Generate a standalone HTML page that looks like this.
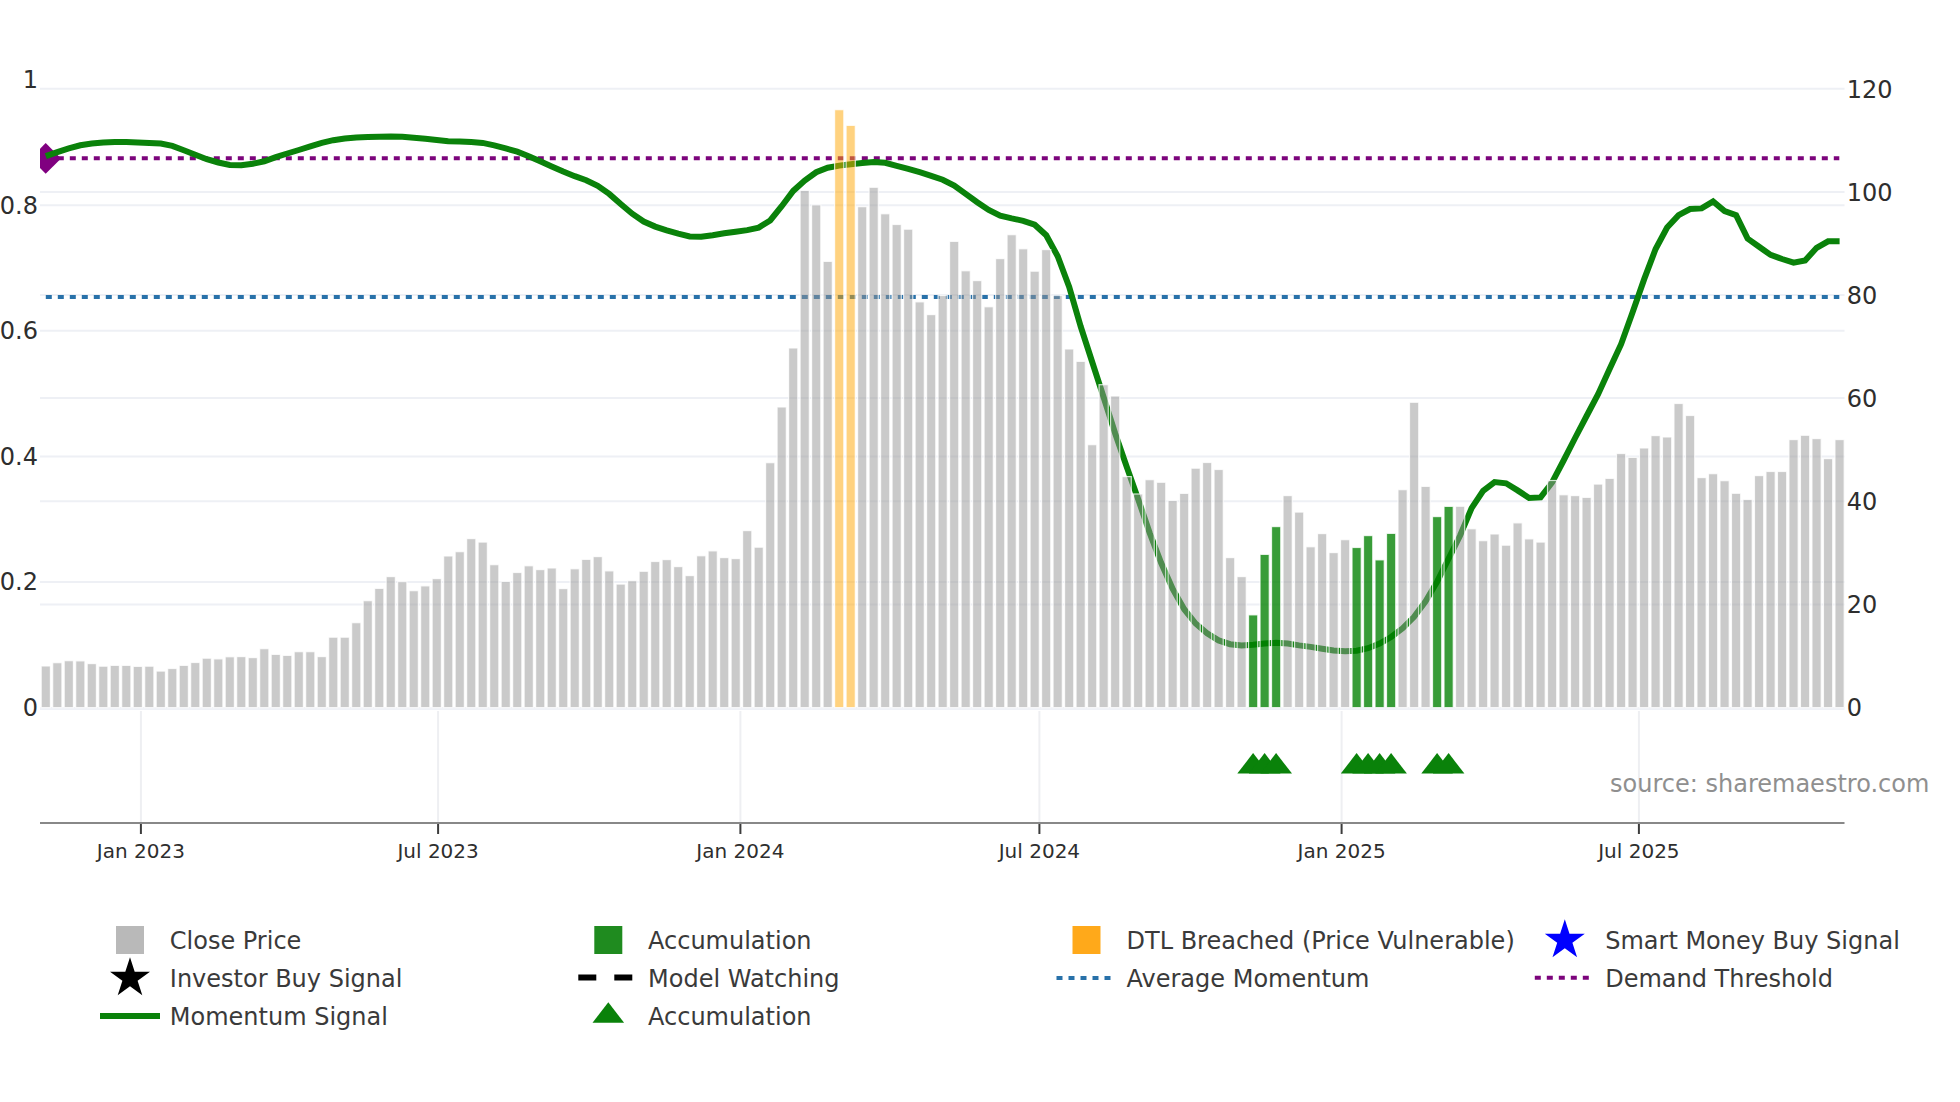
<!DOCTYPE html>
<html><head><meta charset="utf-8"><title>Momentum chart</title>
<style>html,body{margin:0;padding:0;background:#fff}body{width:1960px;height:1102px;overflow:hidden}</style>
</head><body>
<svg width="1960" height="1102" viewBox="0 0 1960 1102" style="display:block">
<rect width="1960" height="1102" fill="#fff"/>
<line x1="40" x2="1844.5" y1="582.0" y2="582.0" stroke="#eef0f5" stroke-width="2"/>
<line x1="40" x2="1844.5" y1="456.4" y2="456.4" stroke="#eef0f5" stroke-width="2"/>
<line x1="40" x2="1844.5" y1="330.8" y2="330.8" stroke="#eef0f5" stroke-width="2"/>
<line x1="40" x2="1844.5" y1="205.3" y2="205.3" stroke="#eef0f5" stroke-width="2"/>
<line x1="40" x2="1844.5" y1="604.4" y2="604.4" stroke="#eef0f5" stroke-width="2"/>
<line x1="40" x2="1844.5" y1="501.3" y2="501.3" stroke="#eef0f5" stroke-width="2"/>
<line x1="40" x2="1844.5" y1="398.1" y2="398.1" stroke="#eef0f5" stroke-width="2"/>
<line x1="40" x2="1844.5" y1="295.0" y2="295.0" stroke="#eef0f5" stroke-width="2"/>
<line x1="40" x2="1844.5" y1="191.9" y2="191.9" stroke="#eef0f5" stroke-width="2"/>
<line x1="40" x2="1844.5" y1="88.7" y2="88.7" stroke="#eef0f5" stroke-width="2"/>
<line x1="40" x2="1844.5" y1="708.6" y2="708.6" stroke="#f0f2f7" stroke-width="3"/>
<line x1="140.9" x2="140.9" y1="711" y2="822" stroke="#eeeff2" stroke-width="2"/>
<line x1="438.1" x2="438.1" y1="711" y2="822" stroke="#eeeff2" stroke-width="2"/>
<line x1="740.4" x2="740.4" y1="711" y2="822" stroke="#eeeff2" stroke-width="2"/>
<line x1="1039.4" x2="1039.4" y1="711" y2="822" stroke="#eeeff2" stroke-width="2"/>
<line x1="1341.6" x2="1341.6" y1="711" y2="822" stroke="#eeeff2" stroke-width="2"/>
<line x1="1638.9" x2="1638.9" y1="711" y2="822" stroke="#eeeff2" stroke-width="2"/>
<defs><clipPath id="pc"><rect x="40" y="70" width="1804.5" height="640"/></clipPath></defs>
<g clip-path="url(#pc)">
<polygon points="30.4,158.4 45.7,143.1 61,158.4 45.7,173.7" fill="#800080"/>
<line x1="45.8" x2="1839.3" y1="158.3" y2="158.3" stroke="#7c047c" stroke-width="4" stroke-dasharray="6 6"/>
<line x1="45.8" x2="1839.3" y1="296.9" y2="296.9" stroke="#2871a9" stroke-width="4" stroke-dasharray="6 6"/>
<polyline points="45.8,156.2 57.3,152.1 68.8,148.4 80.3,145.3 91.8,143.5 103.3,142.5 114.8,141.9 126.3,142.1 137.8,142.5 149.3,142.9 160.8,143.5 172.3,145.9 183.8,150.2 195.3,154.7 206.8,159.2 218.3,162.5 229.8,164.9 241.3,165.3 252.8,163.7 264.3,161.3 275.8,157.2 287.3,153.5 298.8,150.0 310.3,146.4 321.8,142.9 333.3,140.2 344.8,138.6 356.3,137.4 367.8,137.0 379.3,136.8 390.8,136.5 402.3,136.8 413.8,137.7 425.3,138.8 436.7,140.0 448.2,141.2 459.7,141.4 471.2,142.1 482.7,142.9 494.2,145.3 505.7,148.4 517.2,151.7 528.7,156.2 540.2,161.3 551.7,166.4 563.2,171.5 574.7,176.2 586.2,180.2 597.7,185.8 609.2,193.9 620.7,204.1 632.2,213.7 643.7,221.5 655.2,226.6 666.7,230.3 678.2,233.7 689.7,236.4 701.2,236.8 712.7,235.2 724.2,233.3 735.7,231.7 747.2,230.1 758.7,227.6 770.2,220.5 781.7,206.2 793.2,190.9 804.7,180.5 816.2,172.2 827.7,167.7 839.2,165.6 850.7,164.2 862.2,163.1 873.7,162.1 885.2,162.8 896.7,165.8 908.2,168.8 919.7,172.2 931.2,175.8 942.7,179.7 954.2,185.5 965.7,193.9 977.2,202.2 988.7,209.9 1000.2,215.6 1011.7,218.4 1023.2,220.8 1034.7,224.7 1046.2,235.2 1057.7,256.3 1069.2,287.0 1080.7,326.5 1092.2,362.0 1103.7,397.5 1115.2,433.5 1126.7,466.7 1138.2,499.2 1149.7,533.0 1161.2,563.0 1172.7,589.0 1184.2,609.2 1195.6,623.5 1207.1,633.2 1218.6,640.4 1230.1,644.2 1241.6,645.5 1253.1,644.8 1264.6,643.6 1276.1,642.7 1287.6,643.6 1299.1,645.4 1310.6,646.9 1322.1,648.7 1333.6,650.4 1345.1,651.3 1356.6,650.8 1368.1,648.2 1379.6,643.5 1391.1,637.0 1402.6,628.3 1414.1,616.8 1425.6,601.3 1437.1,581.7 1448.6,558.6 1460.1,535.5 1471.6,508.2 1483.1,490.9 1494.6,482.1 1506.1,483.3 1517.6,490.4 1529.1,498.0 1540.6,497.4 1552.1,482.5 1563.6,460.5 1575.1,438.0 1586.6,416.0 1598.1,394.2 1609.6,369.0 1621.1,344.2 1632.6,312.2 1644.1,279.4 1655.6,249.0 1667.1,227.5 1678.6,215.1 1690.1,209.0 1701.6,208.4 1713.1,201.4 1724.6,211.0 1736.1,215.1 1747.6,238.6 1759.1,246.8 1770.6,254.9 1782.1,259.0 1793.6,262.7 1805.1,260.5 1816.6,247.8 1828.1,241.3 1839.6,241.3" fill="none" stroke="#0a820a" stroke-width="6" stroke-linejoin="miter" stroke-linecap="butt"/>
<rect x="41.20" y="666.0" width="9.2" height="41.6" fill="#969696" fill-opacity="0.5" stroke="#fff" stroke-opacity="0.78" stroke-width="1.2"/>
<rect x="52.70" y="662.7" width="9.2" height="44.9" fill="#969696" fill-opacity="0.5" stroke="#fff" stroke-opacity="0.78" stroke-width="1.2"/>
<rect x="64.20" y="660.7" width="9.2" height="46.9" fill="#969696" fill-opacity="0.5" stroke="#fff" stroke-opacity="0.78" stroke-width="1.2"/>
<rect x="75.70" y="660.9" width="9.2" height="46.7" fill="#969696" fill-opacity="0.5" stroke="#fff" stroke-opacity="0.78" stroke-width="1.2"/>
<rect x="87.19" y="663.6" width="9.2" height="44.0" fill="#969696" fill-opacity="0.5" stroke="#fff" stroke-opacity="0.78" stroke-width="1.2"/>
<rect x="98.69" y="666.2" width="9.2" height="41.4" fill="#969696" fill-opacity="0.5" stroke="#fff" stroke-opacity="0.78" stroke-width="1.2"/>
<rect x="110.19" y="665.4" width="9.2" height="42.2" fill="#969696" fill-opacity="0.5" stroke="#fff" stroke-opacity="0.78" stroke-width="1.2"/>
<rect x="121.69" y="665.4" width="9.2" height="42.2" fill="#969696" fill-opacity="0.5" stroke="#fff" stroke-opacity="0.78" stroke-width="1.2"/>
<rect x="133.19" y="666.4" width="9.2" height="41.2" fill="#969696" fill-opacity="0.5" stroke="#fff" stroke-opacity="0.78" stroke-width="1.2"/>
<rect x="144.69" y="666.2" width="9.2" height="41.4" fill="#969696" fill-opacity="0.5" stroke="#fff" stroke-opacity="0.78" stroke-width="1.2"/>
<rect x="156.19" y="671.1" width="9.2" height="36.5" fill="#969696" fill-opacity="0.5" stroke="#fff" stroke-opacity="0.78" stroke-width="1.2"/>
<rect x="167.68" y="668.5" width="9.2" height="39.1" fill="#969696" fill-opacity="0.5" stroke="#fff" stroke-opacity="0.78" stroke-width="1.2"/>
<rect x="179.18" y="665.4" width="9.2" height="42.2" fill="#969696" fill-opacity="0.5" stroke="#fff" stroke-opacity="0.78" stroke-width="1.2"/>
<rect x="190.68" y="662.5" width="9.2" height="45.1" fill="#969696" fill-opacity="0.5" stroke="#fff" stroke-opacity="0.78" stroke-width="1.2"/>
<rect x="202.18" y="658.2" width="9.2" height="49.4" fill="#969696" fill-opacity="0.5" stroke="#fff" stroke-opacity="0.78" stroke-width="1.2"/>
<rect x="213.68" y="658.9" width="9.2" height="48.7" fill="#969696" fill-opacity="0.5" stroke="#fff" stroke-opacity="0.78" stroke-width="1.2"/>
<rect x="225.18" y="656.8" width="9.2" height="50.8" fill="#969696" fill-opacity="0.5" stroke="#fff" stroke-opacity="0.78" stroke-width="1.2"/>
<rect x="236.67" y="656.6" width="9.2" height="51.0" fill="#969696" fill-opacity="0.5" stroke="#fff" stroke-opacity="0.78" stroke-width="1.2"/>
<rect x="248.17" y="657.6" width="9.2" height="50.0" fill="#969696" fill-opacity="0.5" stroke="#fff" stroke-opacity="0.78" stroke-width="1.2"/>
<rect x="259.67" y="648.7" width="9.2" height="58.9" fill="#969696" fill-opacity="0.5" stroke="#fff" stroke-opacity="0.78" stroke-width="1.2"/>
<rect x="271.17" y="654.4" width="9.2" height="53.2" fill="#969696" fill-opacity="0.5" stroke="#fff" stroke-opacity="0.78" stroke-width="1.2"/>
<rect x="282.67" y="655.4" width="9.2" height="52.2" fill="#969696" fill-opacity="0.5" stroke="#fff" stroke-opacity="0.78" stroke-width="1.2"/>
<rect x="294.17" y="651.7" width="9.2" height="55.9" fill="#969696" fill-opacity="0.5" stroke="#fff" stroke-opacity="0.78" stroke-width="1.2"/>
<rect x="305.67" y="651.7" width="9.2" height="55.9" fill="#969696" fill-opacity="0.5" stroke="#fff" stroke-opacity="0.78" stroke-width="1.2"/>
<rect x="317.16" y="656.6" width="9.2" height="51.0" fill="#969696" fill-opacity="0.5" stroke="#fff" stroke-opacity="0.78" stroke-width="1.2"/>
<rect x="328.66" y="637.2" width="9.2" height="70.4" fill="#969696" fill-opacity="0.5" stroke="#fff" stroke-opacity="0.78" stroke-width="1.2"/>
<rect x="340.16" y="637.2" width="9.2" height="70.4" fill="#969696" fill-opacity="0.5" stroke="#fff" stroke-opacity="0.78" stroke-width="1.2"/>
<rect x="351.66" y="622.7" width="9.2" height="84.9" fill="#969696" fill-opacity="0.5" stroke="#fff" stroke-opacity="0.78" stroke-width="1.2"/>
<rect x="363.16" y="600.7" width="9.2" height="106.9" fill="#969696" fill-opacity="0.5" stroke="#fff" stroke-opacity="0.78" stroke-width="1.2"/>
<rect x="374.66" y="588.4" width="9.2" height="119.2" fill="#969696" fill-opacity="0.5" stroke="#fff" stroke-opacity="0.78" stroke-width="1.2"/>
<rect x="386.15" y="576.6" width="9.2" height="131.0" fill="#969696" fill-opacity="0.5" stroke="#fff" stroke-opacity="0.78" stroke-width="1.2"/>
<rect x="397.65" y="581.7" width="9.2" height="125.9" fill="#969696" fill-opacity="0.5" stroke="#fff" stroke-opacity="0.78" stroke-width="1.2"/>
<rect x="409.15" y="590.7" width="9.2" height="116.9" fill="#969696" fill-opacity="0.5" stroke="#fff" stroke-opacity="0.78" stroke-width="1.2"/>
<rect x="420.65" y="585.9" width="9.2" height="121.7" fill="#969696" fill-opacity="0.5" stroke="#fff" stroke-opacity="0.78" stroke-width="1.2"/>
<rect x="432.15" y="578.6" width="9.2" height="129.0" fill="#969696" fill-opacity="0.5" stroke="#fff" stroke-opacity="0.78" stroke-width="1.2"/>
<rect x="443.65" y="556.0" width="9.2" height="151.6" fill="#969696" fill-opacity="0.5" stroke="#fff" stroke-opacity="0.78" stroke-width="1.2"/>
<rect x="455.15" y="551.7" width="9.2" height="155.9" fill="#969696" fill-opacity="0.5" stroke="#fff" stroke-opacity="0.78" stroke-width="1.2"/>
<rect x="466.64" y="538.6" width="9.2" height="169.0" fill="#969696" fill-opacity="0.5" stroke="#fff" stroke-opacity="0.78" stroke-width="1.2"/>
<rect x="478.14" y="542.1" width="9.2" height="165.5" fill="#969696" fill-opacity="0.5" stroke="#fff" stroke-opacity="0.78" stroke-width="1.2"/>
<rect x="489.64" y="564.7" width="9.2" height="142.9" fill="#969696" fill-opacity="0.5" stroke="#fff" stroke-opacity="0.78" stroke-width="1.2"/>
<rect x="501.14" y="581.5" width="9.2" height="126.1" fill="#969696" fill-opacity="0.5" stroke="#fff" stroke-opacity="0.78" stroke-width="1.2"/>
<rect x="512.64" y="572.5" width="9.2" height="135.1" fill="#969696" fill-opacity="0.5" stroke="#fff" stroke-opacity="0.78" stroke-width="1.2"/>
<rect x="524.14" y="565.8" width="9.2" height="141.8" fill="#969696" fill-opacity="0.5" stroke="#fff" stroke-opacity="0.78" stroke-width="1.2"/>
<rect x="535.64" y="569.6" width="9.2" height="138.0" fill="#969696" fill-opacity="0.5" stroke="#fff" stroke-opacity="0.78" stroke-width="1.2"/>
<rect x="547.13" y="568.0" width="9.2" height="139.6" fill="#969696" fill-opacity="0.5" stroke="#fff" stroke-opacity="0.78" stroke-width="1.2"/>
<rect x="558.63" y="588.6" width="9.2" height="119.0" fill="#969696" fill-opacity="0.5" stroke="#fff" stroke-opacity="0.78" stroke-width="1.2"/>
<rect x="570.13" y="568.8" width="9.2" height="138.8" fill="#969696" fill-opacity="0.5" stroke="#fff" stroke-opacity="0.78" stroke-width="1.2"/>
<rect x="581.63" y="559.4" width="9.2" height="148.2" fill="#969696" fill-opacity="0.5" stroke="#fff" stroke-opacity="0.78" stroke-width="1.2"/>
<rect x="593.13" y="556.6" width="9.2" height="151.0" fill="#969696" fill-opacity="0.5" stroke="#fff" stroke-opacity="0.78" stroke-width="1.2"/>
<rect x="604.63" y="570.9" width="9.2" height="136.7" fill="#969696" fill-opacity="0.5" stroke="#fff" stroke-opacity="0.78" stroke-width="1.2"/>
<rect x="616.12" y="584.1" width="9.2" height="123.5" fill="#969696" fill-opacity="0.5" stroke="#fff" stroke-opacity="0.78" stroke-width="1.2"/>
<rect x="627.62" y="580.7" width="9.2" height="126.9" fill="#969696" fill-opacity="0.5" stroke="#fff" stroke-opacity="0.78" stroke-width="1.2"/>
<rect x="639.12" y="571.3" width="9.2" height="136.3" fill="#969696" fill-opacity="0.5" stroke="#fff" stroke-opacity="0.78" stroke-width="1.2"/>
<rect x="650.62" y="561.5" width="9.2" height="146.1" fill="#969696" fill-opacity="0.5" stroke="#fff" stroke-opacity="0.78" stroke-width="1.2"/>
<rect x="662.12" y="559.6" width="9.2" height="148.0" fill="#969696" fill-opacity="0.5" stroke="#fff" stroke-opacity="0.78" stroke-width="1.2"/>
<rect x="673.62" y="566.6" width="9.2" height="141.0" fill="#969696" fill-opacity="0.5" stroke="#fff" stroke-opacity="0.78" stroke-width="1.2"/>
<rect x="685.12" y="575.6" width="9.2" height="132.0" fill="#969696" fill-opacity="0.5" stroke="#fff" stroke-opacity="0.78" stroke-width="1.2"/>
<rect x="696.61" y="555.8" width="9.2" height="151.8" fill="#969696" fill-opacity="0.5" stroke="#fff" stroke-opacity="0.78" stroke-width="1.2"/>
<rect x="708.11" y="550.9" width="9.2" height="156.7" fill="#969696" fill-opacity="0.5" stroke="#fff" stroke-opacity="0.78" stroke-width="1.2"/>
<rect x="719.61" y="557.6" width="9.2" height="150.0" fill="#969696" fill-opacity="0.5" stroke="#fff" stroke-opacity="0.78" stroke-width="1.2"/>
<rect x="731.11" y="558.6" width="9.2" height="149.0" fill="#969696" fill-opacity="0.5" stroke="#fff" stroke-opacity="0.78" stroke-width="1.2"/>
<rect x="742.61" y="530.6" width="9.2" height="177.0" fill="#969696" fill-opacity="0.5" stroke="#fff" stroke-opacity="0.78" stroke-width="1.2"/>
<rect x="754.11" y="547.2" width="9.2" height="160.4" fill="#969696" fill-opacity="0.5" stroke="#fff" stroke-opacity="0.78" stroke-width="1.2"/>
<rect x="765.61" y="462.7" width="9.2" height="244.9" fill="#969696" fill-opacity="0.5" stroke="#fff" stroke-opacity="0.78" stroke-width="1.2"/>
<rect x="777.10" y="407.0" width="9.2" height="300.6" fill="#969696" fill-opacity="0.5" stroke="#fff" stroke-opacity="0.78" stroke-width="1.2"/>
<rect x="788.60" y="348.0" width="9.2" height="359.6" fill="#969696" fill-opacity="0.5" stroke="#fff" stroke-opacity="0.78" stroke-width="1.2"/>
<rect x="800.10" y="190.4" width="9.2" height="517.2" fill="#969696" fill-opacity="0.5" stroke="#fff" stroke-opacity="0.78" stroke-width="1.2"/>
<rect x="811.60" y="204.9" width="9.2" height="502.7" fill="#969696" fill-opacity="0.5" stroke="#fff" stroke-opacity="0.78" stroke-width="1.2"/>
<rect x="823.10" y="261.4" width="9.2" height="446.2" fill="#969696" fill-opacity="0.5" stroke="#fff" stroke-opacity="0.78" stroke-width="1.2"/>
<rect x="834.60" y="109.7" width="9.2" height="597.9" fill="#ffa500" fill-opacity="0.5" stroke="#fff" stroke-opacity="0.78" stroke-width="1.2"/>
<rect x="846.09" y="125.4" width="9.2" height="582.2" fill="#ffa500" fill-opacity="0.5" stroke="#fff" stroke-opacity="0.78" stroke-width="1.2"/>
<rect x="857.59" y="206.7" width="9.2" height="500.9" fill="#969696" fill-opacity="0.5" stroke="#fff" stroke-opacity="0.78" stroke-width="1.2"/>
<rect x="869.09" y="187.3" width="9.2" height="520.3" fill="#969696" fill-opacity="0.5" stroke="#fff" stroke-opacity="0.78" stroke-width="1.2"/>
<rect x="880.59" y="213.8" width="9.2" height="493.8" fill="#969696" fill-opacity="0.5" stroke="#fff" stroke-opacity="0.78" stroke-width="1.2"/>
<rect x="892.09" y="224.5" width="9.2" height="483.1" fill="#969696" fill-opacity="0.5" stroke="#fff" stroke-opacity="0.78" stroke-width="1.2"/>
<rect x="903.59" y="229.2" width="9.2" height="478.4" fill="#969696" fill-opacity="0.5" stroke="#fff" stroke-opacity="0.78" stroke-width="1.2"/>
<rect x="915.09" y="301.9" width="9.2" height="405.7" fill="#969696" fill-opacity="0.5" stroke="#fff" stroke-opacity="0.78" stroke-width="1.2"/>
<rect x="926.58" y="314.6" width="9.2" height="393.0" fill="#969696" fill-opacity="0.5" stroke="#fff" stroke-opacity="0.78" stroke-width="1.2"/>
<rect x="938.08" y="295.5" width="9.2" height="412.1" fill="#969696" fill-opacity="0.5" stroke="#fff" stroke-opacity="0.78" stroke-width="1.2"/>
<rect x="949.58" y="241.4" width="9.2" height="466.2" fill="#969696" fill-opacity="0.5" stroke="#fff" stroke-opacity="0.78" stroke-width="1.2"/>
<rect x="961.08" y="270.8" width="9.2" height="436.8" fill="#969696" fill-opacity="0.5" stroke="#fff" stroke-opacity="0.78" stroke-width="1.2"/>
<rect x="972.58" y="280.6" width="9.2" height="427.0" fill="#969696" fill-opacity="0.5" stroke="#fff" stroke-opacity="0.78" stroke-width="1.2"/>
<rect x="984.08" y="306.8" width="9.2" height="400.8" fill="#969696" fill-opacity="0.5" stroke="#fff" stroke-opacity="0.78" stroke-width="1.2"/>
<rect x="995.58" y="258.6" width="9.2" height="449.0" fill="#969696" fill-opacity="0.5" stroke="#fff" stroke-opacity="0.78" stroke-width="1.2"/>
<rect x="1007.07" y="234.7" width="9.2" height="472.9" fill="#969696" fill-opacity="0.5" stroke="#fff" stroke-opacity="0.78" stroke-width="1.2"/>
<rect x="1018.57" y="248.8" width="9.2" height="458.8" fill="#969696" fill-opacity="0.5" stroke="#fff" stroke-opacity="0.78" stroke-width="1.2"/>
<rect x="1030.07" y="271.2" width="9.2" height="436.4" fill="#969696" fill-opacity="0.5" stroke="#fff" stroke-opacity="0.78" stroke-width="1.2"/>
<rect x="1041.57" y="249.6" width="9.2" height="458.0" fill="#969696" fill-opacity="0.5" stroke="#fff" stroke-opacity="0.78" stroke-width="1.2"/>
<rect x="1053.07" y="295.5" width="9.2" height="412.1" fill="#969696" fill-opacity="0.5" stroke="#fff" stroke-opacity="0.78" stroke-width="1.2"/>
<rect x="1064.57" y="349.0" width="9.2" height="358.6" fill="#969696" fill-opacity="0.5" stroke="#fff" stroke-opacity="0.78" stroke-width="1.2"/>
<rect x="1076.07" y="361.4" width="9.2" height="346.2" fill="#969696" fill-opacity="0.5" stroke="#fff" stroke-opacity="0.78" stroke-width="1.2"/>
<rect x="1087.56" y="444.7" width="9.2" height="262.9" fill="#969696" fill-opacity="0.5" stroke="#fff" stroke-opacity="0.78" stroke-width="1.2"/>
<rect x="1099.06" y="384.7" width="9.2" height="322.9" fill="#969696" fill-opacity="0.5" stroke="#fff" stroke-opacity="0.78" stroke-width="1.2"/>
<rect x="1110.56" y="396.0" width="9.2" height="311.6" fill="#969696" fill-opacity="0.5" stroke="#fff" stroke-opacity="0.78" stroke-width="1.2"/>
<rect x="1122.06" y="476.6" width="9.2" height="231.0" fill="#969696" fill-opacity="0.5" stroke="#fff" stroke-opacity="0.78" stroke-width="1.2"/>
<rect x="1133.56" y="494.0" width="9.2" height="213.6" fill="#969696" fill-opacity="0.5" stroke="#fff" stroke-opacity="0.78" stroke-width="1.2"/>
<rect x="1145.06" y="479.7" width="9.2" height="227.9" fill="#969696" fill-opacity="0.5" stroke="#fff" stroke-opacity="0.78" stroke-width="1.2"/>
<rect x="1156.55" y="482.3" width="9.2" height="225.3" fill="#969696" fill-opacity="0.5" stroke="#fff" stroke-opacity="0.78" stroke-width="1.2"/>
<rect x="1168.05" y="500.5" width="9.2" height="207.1" fill="#969696" fill-opacity="0.5" stroke="#fff" stroke-opacity="0.78" stroke-width="1.2"/>
<rect x="1179.55" y="493.4" width="9.2" height="214.2" fill="#969696" fill-opacity="0.5" stroke="#fff" stroke-opacity="0.78" stroke-width="1.2"/>
<rect x="1191.05" y="468.2" width="9.2" height="239.4" fill="#969696" fill-opacity="0.5" stroke="#fff" stroke-opacity="0.78" stroke-width="1.2"/>
<rect x="1202.55" y="462.5" width="9.2" height="245.1" fill="#969696" fill-opacity="0.5" stroke="#fff" stroke-opacity="0.78" stroke-width="1.2"/>
<rect x="1214.05" y="469.5" width="9.2" height="238.1" fill="#969696" fill-opacity="0.5" stroke="#fff" stroke-opacity="0.78" stroke-width="1.2"/>
<rect x="1225.55" y="557.6" width="9.2" height="150.0" fill="#969696" fill-opacity="0.5" stroke="#fff" stroke-opacity="0.78" stroke-width="1.2"/>
<rect x="1237.04" y="576.6" width="9.2" height="131.0" fill="#969696" fill-opacity="0.5" stroke="#fff" stroke-opacity="0.78" stroke-width="1.2"/>
<rect x="1248.54" y="614.9" width="9.2" height="92.7" fill="#008000" fill-opacity="0.78" stroke="#fff" stroke-opacity="0.78" stroke-width="1.2"/>
<rect x="1260.04" y="554.4" width="9.2" height="153.2" fill="#008000" fill-opacity="0.78" stroke="#fff" stroke-opacity="0.78" stroke-width="1.2"/>
<rect x="1271.54" y="526.6" width="9.2" height="181.0" fill="#008000" fill-opacity="0.78" stroke="#fff" stroke-opacity="0.78" stroke-width="1.2"/>
<rect x="1283.04" y="495.6" width="9.2" height="212.0" fill="#969696" fill-opacity="0.5" stroke="#fff" stroke-opacity="0.78" stroke-width="1.2"/>
<rect x="1294.54" y="512.1" width="9.2" height="195.5" fill="#969696" fill-opacity="0.5" stroke="#fff" stroke-opacity="0.78" stroke-width="1.2"/>
<rect x="1306.04" y="546.8" width="9.2" height="160.8" fill="#969696" fill-opacity="0.5" stroke="#fff" stroke-opacity="0.78" stroke-width="1.2"/>
<rect x="1317.53" y="533.6" width="9.2" height="174.0" fill="#969696" fill-opacity="0.5" stroke="#fff" stroke-opacity="0.78" stroke-width="1.2"/>
<rect x="1329.03" y="552.6" width="9.2" height="155.0" fill="#969696" fill-opacity="0.5" stroke="#fff" stroke-opacity="0.78" stroke-width="1.2"/>
<rect x="1340.53" y="539.7" width="9.2" height="167.9" fill="#969696" fill-opacity="0.5" stroke="#fff" stroke-opacity="0.78" stroke-width="1.2"/>
<rect x="1352.03" y="547.5" width="9.2" height="160.1" fill="#008000" fill-opacity="0.78" stroke="#fff" stroke-opacity="0.78" stroke-width="1.2"/>
<rect x="1363.53" y="535.6" width="9.2" height="172.0" fill="#008000" fill-opacity="0.78" stroke="#fff" stroke-opacity="0.78" stroke-width="1.2"/>
<rect x="1375.03" y="559.9" width="9.2" height="147.7" fill="#008000" fill-opacity="0.78" stroke="#fff" stroke-opacity="0.78" stroke-width="1.2"/>
<rect x="1386.52" y="533.4" width="9.2" height="174.2" fill="#008000" fill-opacity="0.78" stroke="#fff" stroke-opacity="0.78" stroke-width="1.2"/>
<rect x="1398.02" y="489.7" width="9.2" height="217.9" fill="#969696" fill-opacity="0.5" stroke="#fff" stroke-opacity="0.78" stroke-width="1.2"/>
<rect x="1409.52" y="402.3" width="9.2" height="305.3" fill="#969696" fill-opacity="0.5" stroke="#fff" stroke-opacity="0.78" stroke-width="1.2"/>
<rect x="1421.02" y="486.4" width="9.2" height="221.2" fill="#969696" fill-opacity="0.5" stroke="#fff" stroke-opacity="0.78" stroke-width="1.2"/>
<rect x="1432.52" y="516.6" width="9.2" height="191.0" fill="#008000" fill-opacity="0.78" stroke="#fff" stroke-opacity="0.78" stroke-width="1.2"/>
<rect x="1444.02" y="506.4" width="9.2" height="201.2" fill="#008000" fill-opacity="0.78" stroke="#fff" stroke-opacity="0.78" stroke-width="1.2"/>
<rect x="1455.52" y="506.3" width="9.2" height="201.3" fill="#969696" fill-opacity="0.5" stroke="#fff" stroke-opacity="0.78" stroke-width="1.2"/>
<rect x="1467.01" y="528.8" width="9.2" height="178.8" fill="#969696" fill-opacity="0.5" stroke="#fff" stroke-opacity="0.78" stroke-width="1.2"/>
<rect x="1478.51" y="540.7" width="9.2" height="166.9" fill="#969696" fill-opacity="0.5" stroke="#fff" stroke-opacity="0.78" stroke-width="1.2"/>
<rect x="1490.01" y="534.0" width="9.2" height="173.6" fill="#969696" fill-opacity="0.5" stroke="#fff" stroke-opacity="0.78" stroke-width="1.2"/>
<rect x="1501.51" y="545.2" width="9.2" height="162.4" fill="#969696" fill-opacity="0.5" stroke="#fff" stroke-opacity="0.78" stroke-width="1.2"/>
<rect x="1513.01" y="522.9" width="9.2" height="184.7" fill="#969696" fill-opacity="0.5" stroke="#fff" stroke-opacity="0.78" stroke-width="1.2"/>
<rect x="1524.51" y="538.9" width="9.2" height="168.7" fill="#969696" fill-opacity="0.5" stroke="#fff" stroke-opacity="0.78" stroke-width="1.2"/>
<rect x="1536.01" y="542.1" width="9.2" height="165.5" fill="#969696" fill-opacity="0.5" stroke="#fff" stroke-opacity="0.78" stroke-width="1.2"/>
<rect x="1547.50" y="480.5" width="9.2" height="227.1" fill="#969696" fill-opacity="0.5" stroke="#fff" stroke-opacity="0.78" stroke-width="1.2"/>
<rect x="1559.00" y="494.8" width="9.2" height="212.8" fill="#969696" fill-opacity="0.5" stroke="#fff" stroke-opacity="0.78" stroke-width="1.2"/>
<rect x="1570.50" y="495.6" width="9.2" height="212.0" fill="#969696" fill-opacity="0.5" stroke="#fff" stroke-opacity="0.78" stroke-width="1.2"/>
<rect x="1582.00" y="497.4" width="9.2" height="210.2" fill="#969696" fill-opacity="0.5" stroke="#fff" stroke-opacity="0.78" stroke-width="1.2"/>
<rect x="1593.50" y="484.1" width="9.2" height="223.5" fill="#969696" fill-opacity="0.5" stroke="#fff" stroke-opacity="0.78" stroke-width="1.2"/>
<rect x="1605.00" y="478.4" width="9.2" height="229.2" fill="#969696" fill-opacity="0.5" stroke="#fff" stroke-opacity="0.78" stroke-width="1.2"/>
<rect x="1616.49" y="453.5" width="9.2" height="254.1" fill="#969696" fill-opacity="0.5" stroke="#fff" stroke-opacity="0.78" stroke-width="1.2"/>
<rect x="1627.99" y="457.4" width="9.2" height="250.2" fill="#969696" fill-opacity="0.5" stroke="#fff" stroke-opacity="0.78" stroke-width="1.2"/>
<rect x="1639.49" y="448.0" width="9.2" height="259.6" fill="#969696" fill-opacity="0.5" stroke="#fff" stroke-opacity="0.78" stroke-width="1.2"/>
<rect x="1650.99" y="435.6" width="9.2" height="272.0" fill="#969696" fill-opacity="0.5" stroke="#fff" stroke-opacity="0.78" stroke-width="1.2"/>
<rect x="1662.49" y="437.0" width="9.2" height="270.6" fill="#969696" fill-opacity="0.5" stroke="#fff" stroke-opacity="0.78" stroke-width="1.2"/>
<rect x="1673.99" y="403.5" width="9.2" height="304.1" fill="#969696" fill-opacity="0.5" stroke="#fff" stroke-opacity="0.78" stroke-width="1.2"/>
<rect x="1685.49" y="415.5" width="9.2" height="292.1" fill="#969696" fill-opacity="0.5" stroke="#fff" stroke-opacity="0.78" stroke-width="1.2"/>
<rect x="1696.98" y="477.6" width="9.2" height="230.0" fill="#969696" fill-opacity="0.5" stroke="#fff" stroke-opacity="0.78" stroke-width="1.2"/>
<rect x="1708.48" y="473.7" width="9.2" height="233.9" fill="#969696" fill-opacity="0.5" stroke="#fff" stroke-opacity="0.78" stroke-width="1.2"/>
<rect x="1719.98" y="480.7" width="9.2" height="226.9" fill="#969696" fill-opacity="0.5" stroke="#fff" stroke-opacity="0.78" stroke-width="1.2"/>
<rect x="1731.48" y="493.3" width="9.2" height="214.3" fill="#969696" fill-opacity="0.5" stroke="#fff" stroke-opacity="0.78" stroke-width="1.2"/>
<rect x="1742.98" y="499.5" width="9.2" height="208.1" fill="#969696" fill-opacity="0.5" stroke="#fff" stroke-opacity="0.78" stroke-width="1.2"/>
<rect x="1754.48" y="475.6" width="9.2" height="232.0" fill="#969696" fill-opacity="0.5" stroke="#fff" stroke-opacity="0.78" stroke-width="1.2"/>
<rect x="1765.98" y="471.5" width="9.2" height="236.1" fill="#969696" fill-opacity="0.5" stroke="#fff" stroke-opacity="0.78" stroke-width="1.2"/>
<rect x="1777.47" y="471.5" width="9.2" height="236.1" fill="#969696" fill-opacity="0.5" stroke="#fff" stroke-opacity="0.78" stroke-width="1.2"/>
<rect x="1788.97" y="439.6" width="9.2" height="268.0" fill="#969696" fill-opacity="0.5" stroke="#fff" stroke-opacity="0.78" stroke-width="1.2"/>
<rect x="1800.47" y="435.3" width="9.2" height="272.3" fill="#969696" fill-opacity="0.5" stroke="#fff" stroke-opacity="0.78" stroke-width="1.2"/>
<rect x="1811.97" y="438.6" width="9.2" height="269.0" fill="#969696" fill-opacity="0.5" stroke="#fff" stroke-opacity="0.78" stroke-width="1.2"/>
<rect x="1823.47" y="458.6" width="9.2" height="249.0" fill="#969696" fill-opacity="0.5" stroke="#fff" stroke-opacity="0.78" stroke-width="1.2"/>
<rect x="1834.97" y="439.6" width="9.2" height="268.0" fill="#969696" fill-opacity="0.5" stroke="#fff" stroke-opacity="0.78" stroke-width="1.2"/>
</g>
<polygon points="1237.3,773.6 1269.0,773.6 1253.1,753.1" fill="#0a820a"/>
<polygon points="1248.8,773.6 1280.5,773.6 1264.6,753.1" fill="#0a820a"/>
<polygon points="1260.3,773.6 1292.0,773.6 1276.1,753.1" fill="#0a820a"/>
<polygon points="1340.8,773.6 1372.4,773.6 1356.6,753.1" fill="#0a820a"/>
<polygon points="1352.3,773.6 1383.9,773.6 1368.1,753.1" fill="#0a820a"/>
<polygon points="1363.8,773.6 1395.4,773.6 1379.6,753.1" fill="#0a820a"/>
<polygon points="1375.3,773.6 1406.9,773.6 1391.1,753.1" fill="#0a820a"/>
<polygon points="1421.3,773.6 1452.9,773.6 1437.1,753.1" fill="#0a820a"/>
<polygon points="1432.8,773.6 1464.4,773.6 1448.6,753.1" fill="#0a820a"/>
<line x1="40" x2="1844.5" y1="823" y2="823" stroke="#888" stroke-width="2"/>
<line x1="140.9" x2="140.9" y1="824" y2="834" stroke="#3c3c3c" stroke-width="2"/>
<text x="140.9" y="858" text-anchor="middle" font-family='"DejaVu Sans","Liberation Sans",sans-serif' font-size="20" fill="#2e2e2e">Jan 2023</text>
<line x1="438.1" x2="438.1" y1="824" y2="834" stroke="#3c3c3c" stroke-width="2"/>
<text x="438.1" y="858" text-anchor="middle" font-family='"DejaVu Sans","Liberation Sans",sans-serif' font-size="20" fill="#2e2e2e">Jul 2023</text>
<line x1="740.4" x2="740.4" y1="824" y2="834" stroke="#3c3c3c" stroke-width="2"/>
<text x="740.4" y="858" text-anchor="middle" font-family='"DejaVu Sans","Liberation Sans",sans-serif' font-size="20" fill="#2e2e2e">Jan 2024</text>
<line x1="1039.4" x2="1039.4" y1="824" y2="834" stroke="#3c3c3c" stroke-width="2"/>
<text x="1039.4" y="858" text-anchor="middle" font-family='"DejaVu Sans","Liberation Sans",sans-serif' font-size="20" fill="#2e2e2e">Jul 2024</text>
<line x1="1341.6" x2="1341.6" y1="824" y2="834" stroke="#3c3c3c" stroke-width="2"/>
<text x="1341.6" y="858" text-anchor="middle" font-family='"DejaVu Sans","Liberation Sans",sans-serif' font-size="20" fill="#2e2e2e">Jan 2025</text>
<line x1="1638.9" x2="1638.9" y1="824" y2="834" stroke="#3c3c3c" stroke-width="2"/>
<text x="1638.9" y="858" text-anchor="middle" font-family='"DejaVu Sans","Liberation Sans",sans-serif' font-size="20" fill="#2e2e2e">Jul 2025</text>
<text x="38" y="88.1" text-anchor="end" font-family='"DejaVu Sans","Liberation Sans",sans-serif' font-size="24" fill="#2e2e2e">1</text>
<text x="38" y="213.7" text-anchor="end" font-family='"DejaVu Sans","Liberation Sans",sans-serif' font-size="24" fill="#2e2e2e">0.8</text>
<text x="38" y="339.2" text-anchor="end" font-family='"DejaVu Sans","Liberation Sans",sans-serif' font-size="24" fill="#2e2e2e">0.6</text>
<text x="38" y="464.8" text-anchor="end" font-family='"DejaVu Sans","Liberation Sans",sans-serif' font-size="24" fill="#2e2e2e">0.4</text>
<text x="38" y="590.4" text-anchor="end" font-family='"DejaVu Sans","Liberation Sans",sans-serif' font-size="24" fill="#2e2e2e">0.2</text>
<text x="38" y="715.8" text-anchor="end" font-family='"DejaVu Sans","Liberation Sans",sans-serif' font-size="24" fill="#2e2e2e">0</text>
<text x="1846.7" y="98.1" text-anchor="start" font-family='"DejaVu Sans","Liberation Sans",sans-serif' font-size="24" fill="#2e2e2e">120</text>
<text x="1846.7" y="201.1" text-anchor="start" font-family='"DejaVu Sans","Liberation Sans",sans-serif' font-size="24" fill="#2e2e2e">100</text>
<text x="1846.7" y="304.0" text-anchor="start" font-family='"DejaVu Sans","Liberation Sans",sans-serif' font-size="24" fill="#2e2e2e">80</text>
<text x="1846.7" y="406.9" text-anchor="start" font-family='"DejaVu Sans","Liberation Sans",sans-serif' font-size="24" fill="#2e2e2e">60</text>
<text x="1846.7" y="509.9" text-anchor="start" font-family='"DejaVu Sans","Liberation Sans",sans-serif' font-size="24" fill="#2e2e2e">40</text>
<text x="1846.7" y="612.9" text-anchor="start" font-family='"DejaVu Sans","Liberation Sans",sans-serif' font-size="24" fill="#2e2e2e">20</text>
<text x="1846.7" y="715.8" text-anchor="start" font-family='"DejaVu Sans","Liberation Sans",sans-serif' font-size="24" fill="#2e2e2e">0</text>
<text x="1929.3" y="791.6" text-anchor="end" font-family='"DejaVu Sans","Liberation Sans",sans-serif' font-size="24" fill="#8f8f8f">source: sharemaestro.com</text>
<rect x="116" y="926" width="28" height="28" fill="#b9b9b9"/>
<text x="169.8" y="948.9" font-family='"DejaVu Sans","Liberation Sans",sans-serif' font-size="24" fill="#3a3a3a">Close Price</text>
<rect x="594.3" y="926" width="28" height="28" fill="#1f8b1f"/>
<text x="648" y="948.9" font-family='"DejaVu Sans","Liberation Sans",sans-serif' font-size="24" fill="#3a3a3a">Accumulation</text>
<rect x="1072.5" y="926" width="28" height="28" fill="#ffa91a"/>
<text x="1126.5" y="948.9" font-family='"DejaVu Sans","Liberation Sans",sans-serif' font-size="24" fill="#3a3a3a">DTL Breached (Price Vulnerable)</text>
<polygon points="1569.5,933.8 1584.8,933.8 1572.4,942.8 1577.1,957.3 1564.8,948.3 1552.5,957.3 1557.2,942.8 1544.8,933.8 1560.1,933.8 1564.8,919.3" fill="#0000ff"/>
<text x="1605.2" y="948.9" font-family='"DejaVu Sans","Liberation Sans",sans-serif' font-size="24" fill="#3a3a3a">Smart Money Buy Signal</text>
<polygon points="134.7,971.8 150.0,971.8 137.6,980.8 142.3,995.3 130.0,986.3 117.7,995.3 122.4,980.8 110.0,971.8 125.3,971.8 130.0,957.3" fill="#000"/>
<text x="169.8" y="986.9" font-family='"DejaVu Sans","Liberation Sans",sans-serif' font-size="24" fill="#3a3a3a">Investor Buy Signal</text>
<line x1="578.3" x2="638.3" y1="977.6" y2="977.6" stroke="#000" stroke-width="6" stroke-dasharray="18 18"/>
<text x="648" y="986.9" font-family='"DejaVu Sans","Liberation Sans",sans-serif' font-size="24" fill="#3a3a3a">Model Watching</text>
<line x1="1056.5" x2="1116.5" y1="977.9" y2="977.9" stroke="#2871a9" stroke-width="4" stroke-dasharray="6 6"/>
<text x="1126.5" y="986.9" font-family='"DejaVu Sans","Liberation Sans",sans-serif' font-size="24" fill="#3a3a3a">Average Momentum</text>
<line x1="1534.8" x2="1594.8" y1="977.8" y2="977.8" stroke="#7c047c" stroke-width="4.1" stroke-dasharray="6 6"/>
<text x="1605.2" y="986.9" font-family='"DejaVu Sans","Liberation Sans",sans-serif' font-size="24" fill="#3a3a3a">Demand Threshold</text>
<line x1="100" x2="160" y1="1015.9" y2="1015.9" stroke="#0a820a" stroke-width="6"/>
<text x="169.8" y="1024.9" font-family='"DejaVu Sans","Liberation Sans",sans-serif' font-size="24" fill="#3a3a3a">Momentum Signal</text>
<polygon points="592.5,1022.8 624.1,1022.8 608.3,1002.2" fill="#0a820a"/>
<text x="648" y="1024.9" font-family='"DejaVu Sans","Liberation Sans",sans-serif' font-size="24" fill="#3a3a3a">Accumulation</text>
</svg>
</body></html>
